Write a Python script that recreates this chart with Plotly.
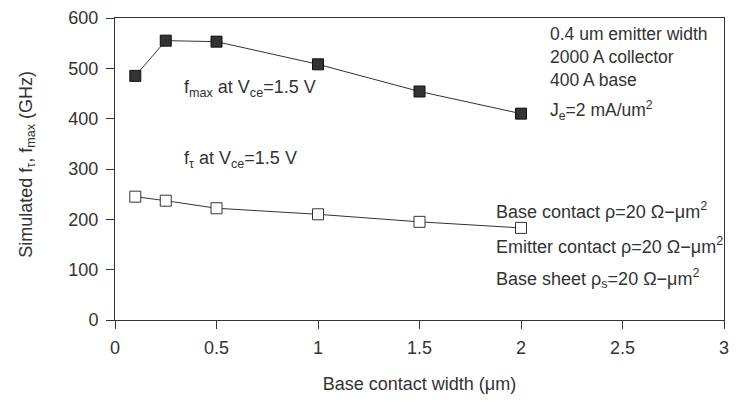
import plotly.graph_objects as go

width_um = [0.1, 0.25, 0.5, 1.0, 1.5, 2.0]
fmax_ghz = [485, 555, 553, 508, 454, 410]
ft_ghz = [245, 237, 222, 210, 195, 183]
x_ticks = [0, 0.5, 1, 1.5, 2, 2.5, 3]
x_labels = ["0", "0.5", "1", "1.5", "2", "2.5", "3"]
y_ticks = [0, 100, 200, 300, 400, 500, 600]

FONT = "Liberation Sans, Arial, Helvetica, sans-serif"
C = "#333333"

fig = go.Figure()
fig.add_trace(go.Scatter(x=width_um, y=fmax_ghz, mode="lines+markers",
                         line=dict(color=C, width=1),
                         marker=dict(symbol="square", size=11, color=C,
                                     line=dict(color="#111", width=1)),
                         showlegend=False))
fig.add_trace(go.Scatter(x=width_um, y=ft_ghz, mode="lines+markers",
                         line=dict(color=C, width=1),
                         marker=dict(symbol="square", size=11, color="white",
                                     line=dict(color=C, width=1)),
                         showlegend=False))

def px2paper(px, py):
    return (px - 115) / 614.0, (320 - py) / 304.0

notes = [
    (552, 32, "0.4 um emitter width", 17.5),
    (552, 55, "2000 A collector", 17.5),
    (552, 78, "400 A base", 17.5),
    (552, 109, "J<sub>e</sub>=2 mA/um<sup>2</sup>", 17.5),
    (183, 87, "f<sub>max</sub> at V<sub>ce</sub>=1.5 V", 18),
    (183, 158, "f<sub>τ</sub> at V<sub>ce</sub>=1.5 V", 18),
    (497, 210, "Base contact ρ=20 Ω−μm<sup>2</sup>", 18),
    (497, 245, "Emitter contact ρ=20 Ω−μm<sup>2</sup>", 18),
    (497, 278, "Base sheet ρ<sub>s</sub>=20 Ω−μm<sup>2</sup>", 18),
]
for px, py, t, fs in notes:
    xp, yp = px2paper(px, py)
    fig.add_annotation(x=xp, y=yp, text=t, xref="paper", yref="paper",
                       showarrow=False, xanchor="left", yanchor="middle",
                       font=dict(family=FONT, size=fs, color=C))

# y-axis title placed as rotated text (centred slightly above plot middle, as in the reference)
yt_x, yt_y = px2paper(26, 163)
fig.add_annotation(x=yt_x, y=yt_y, xref="paper", yref="paper", showarrow=False,
                   text="Simulated f<sub>τ</sub>, f<sub>max</sub> (GHz)", textangle=-90,
                   xanchor="center", yanchor="middle",
                   font=dict(family=FONT, size=18, color=C))

fig.update_layout(
    width=737, height=405,
    margin=dict(l=115, r=8, t=16, b=85),
    paper_bgcolor="white", plot_bgcolor="white",
    font=dict(family=FONT, size=18, color=C),
    xaxis=dict(range=[0, 3], tickvals=x_ticks, ticktext=x_labels,
               ticks="outside", ticklen=8, tickcolor=C, showgrid=False,
               zeroline=False, showline=True, linecolor=C, linewidth=1,
               mirror=True, ticklabelstandoff=3, tickfont=dict(size=18),
               title=dict(text="Base contact width (μm)", standoff=20,
                          font=dict(size=18))),
    yaxis=dict(range=[0, 600], tickvals=y_ticks,
               ticks="outside", ticklen=8, tickcolor=C, showgrid=False,
               zeroline=False, showline=True, linecolor=C, linewidth=1,
               mirror=True, ticklabelstandoff=4, tickfont=dict(size=18)),
)

fig.write_html("out.html")
